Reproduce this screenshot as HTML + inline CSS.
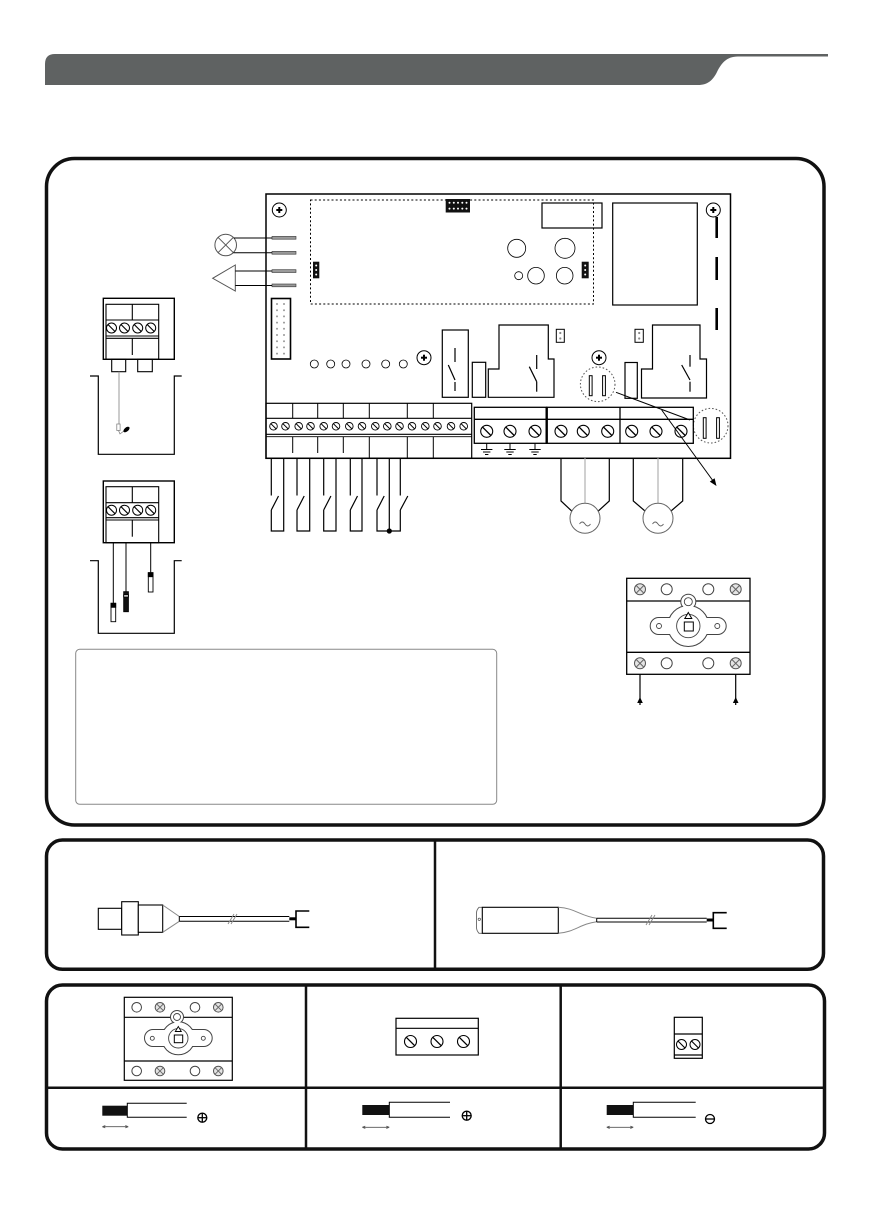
<!DOCTYPE html>
<html><head><meta charset="utf-8"><style>
html,body{margin:0;padding:0;background:#fff;}
svg{display:block;}
</style></head><body>
<svg width="874" height="1226" viewBox="0 0 874 1226" xmlns="http://www.w3.org/2000/svg">
<defs>
<g id="s4"><circle r="3.8" fill="#fff" stroke="#000" stroke-width="0.9"/><line x1="-2.6" y1="-2.6" x2="2.6" y2="2.6" stroke="#000" stroke-width="1"/></g>
<g id="s5"><circle r="5" fill="#fff" stroke="#000" stroke-width="1"/><line x1="-3.5" y1="-3.5" x2="3.5" y2="3.5" stroke="#000" stroke-width="1.1"/></g>
<g id="s6"><circle r="6" fill="#fff" stroke="#000" stroke-width="1.1"/><line x1="-4.2" y1="-4.2" x2="4.2" y2="4.2" stroke="#000" stroke-width="1.3"/></g>
<g id="plus"><circle r="7" fill="#fff" stroke="#000" stroke-width="1"/><line x1="-3" y1="0" x2="3" y2="0" stroke="#000" stroke-width="2"/><line x1="0" y1="-3" x2="0" y2="3" stroke="#000" stroke-width="2"/></g>
<g id="xs"><circle r="5.5" fill="#e4e4e4" stroke="#555" stroke-width="1"/><line x1="-3.8" y1="-3.8" x2="3.8" y2="3.8" stroke="#666" stroke-width="1"/><line x1="-3.8" y1="3.8" x2="3.8" y2="-3.8" stroke="#666" stroke-width="1"/></g>
<g id="os"><circle r="5.5" fill="#fff" stroke="#444" stroke-width="1"/></g>
<g id="xs2"><circle r="4.8" fill="#e4e4e4" stroke="#555" stroke-width="1"/><line x1="-3.3" y1="-3.3" x2="3.3" y2="3.3" stroke="#666" stroke-width="0.9"/><line x1="-3.3" y1="3.3" x2="3.3" y2="-3.3" stroke="#666" stroke-width="0.9"/></g>
<g id="os2"><circle r="4.8" fill="#fff" stroke="#444" stroke-width="1"/></g>
</defs>

<!-- Header bar -->
<path d="M45,85 V64 Q45,54 55,54 H828 V56.5 H738 C726,56.5 721,64 717,72 C713,80 708,85 698,85 Z" fill="#5f6262"/>

<!-- Main frame -->
<rect x="46.5" y="158.5" width="777.5" height="666.5" rx="28" fill="none" stroke="#111" stroke-width="3.5"/>

<!-- PCB -->
<g fill="none" stroke="#000">
<rect x="266" y="194" width="464.5" height="264.3" stroke-width="1.5"/>
<rect x="310.5" y="200" width="283" height="104" stroke-width="1" stroke-dasharray="2,2.2"/>
<rect x="542" y="203" width="60" height="25" stroke-width="1.2"/>
<rect x="612.7" y="203" width="84.6" height="102" stroke-width="1.2"/>
<circle cx="516.7" cy="248.3" r="9" stroke-width="0.8"/>
<circle cx="565" cy="248.3" r="10" stroke-width="0.8"/>
<circle cx="518.7" cy="275.7" r="4" stroke-width="0.8"/>
<circle cx="536" cy="275.7" r="8.3" stroke-width="0.8"/>
<circle cx="564.7" cy="275.7" r="8.3" stroke-width="0.8"/>
<g stroke-width="0.8">
<circle cx="314.3" cy="364" r="4"/><circle cx="330.7" cy="364" r="4"/><circle cx="346" cy="364" r="4"/>
<circle cx="366" cy="364" r="4"/><circle cx="385.7" cy="364" r="4"/><circle cx="403.3" cy="364" r="4"/>
</g>
<!-- right dashes -->
<line x1="716.7" y1="217" x2="716.7" y2="238" stroke-width="2.6"/>
<line x1="716.7" y1="257" x2="716.7" y2="280" stroke-width="2.6"/>
<line x1="716.7" y1="308" x2="716.7" y2="330" stroke-width="2.6"/>
<!-- relays -->
<rect x="442.3" y="330" width="26" height="67.3" stroke-width="1.2"/>
<rect x="472.3" y="362.3" width="13.4" height="35" stroke-width="1.2"/>
<path d="M499,325 H548.3 V359 H554 V397.3 H488.3 V369 H499 Z" stroke-width="1.2"/>
<rect x="625" y="362.5" width="12.3" height="35.8" stroke-width="1.2"/>
<path d="M652.5,325 H700 V359 H706.5 V398 H641.5 V369 H652.5 Z" stroke-width="1.2"/>
<g stroke-width="1.2">
<line x1="455" y1="348" x2="455" y2="362"/><line x1="448.3" y1="365" x2="455" y2="380"/><line x1="455" y1="382" x2="455" y2="391"/>
<line x1="536.7" y1="355" x2="536.7" y2="369"/><line x1="529.3" y1="366.7" x2="536.7" y2="381.7"/><line x1="536.7" y1="381.7" x2="536.7" y2="391.7"/>
<line x1="690" y1="355" x2="690" y2="366.7"/><line x1="681.7" y1="365" x2="690" y2="380"/><line x1="690" y1="381.7" x2="690" y2="391.7"/>
</g>
<!-- 2-dot jumpers -->
<rect x="556.3" y="329.3" width="8" height="13" stroke-width="1"/>
<rect x="635" y="329.3" width="8.3" height="13" stroke-width="1"/>
</g>
<g fill="#888">
<circle cx="560.3" cy="333" r="1.1"/><circle cx="560.3" cy="338.5" r="1.1"/>
<circle cx="639.2" cy="333" r="1.1"/><circle cx="639.2" cy="338.5" r="1.1"/>
</g>
<!-- plus screws -->
<use href="#plus" x="279.3" y="210"/>
<use href="#plus" x="713.3" y="210"/>
<use href="#plus" x="424" y="357.7"/>
<use href="#plus" x="599" y="357.7"/>
<!-- top header connector -->
<rect x="445.7" y="199" width="24.3" height="13.5" fill="#111"/>
<g fill="#fff">
<circle cx="449.5" cy="202.8" r="1"/><circle cx="453.8" cy="202.8" r="1"/><circle cx="458" cy="202.8" r="1"/><circle cx="462.3" cy="202.8" r="1"/><circle cx="466.5" cy="202.8" r="1"/>
<circle cx="449.5" cy="208.6" r="1"/><circle cx="453.8" cy="208.6" r="1"/><circle cx="458" cy="208.6" r="1"/><circle cx="462.3" cy="208.6" r="1"/><circle cx="466.5" cy="208.6" r="1"/>
</g>
<!-- 3-dot jumpers -->
<rect x="313" y="261.7" width="6.3" height="16.6" fill="#111"/>
<rect x="581.7" y="261.7" width="7" height="16.6" fill="#111"/>
<g fill="#fff">
<circle cx="316.2" cy="265.5" r="1"/><circle cx="316.2" cy="270" r="1"/><circle cx="316.2" cy="274.5" r="1"/>
<circle cx="585.2" cy="265.5" r="1"/><circle cx="585.2" cy="270" r="1"/><circle cx="585.2" cy="274.5" r="1"/>
</g>
<!-- ribbon connector -->
<rect x="271.5" y="298.5" width="19" height="60.5" fill="#fff" stroke="#000" stroke-width="1.6"/>
<g fill="#999">
<circle cx="277" cy="304" r="1"/><circle cx="284" cy="304" r="1"/>
<circle cx="277" cy="310.2" r="1"/><circle cx="284" cy="310.2" r="1"/>
<circle cx="277" cy="316.4" r="1"/><circle cx="284" cy="316.4" r="1"/>
<circle cx="277" cy="322.6" r="1"/><circle cx="284" cy="322.6" r="1"/>
<circle cx="277" cy="328.8" r="1"/><circle cx="284" cy="328.8" r="1"/>
<circle cx="277" cy="335" r="1"/><circle cx="284" cy="335" r="1"/>
<circle cx="277" cy="341.2" r="1"/><circle cx="284" cy="341.2" r="1"/>
<circle cx="277" cy="347.4" r="1"/><circle cx="284" cy="347.4" r="1"/>
<circle cx="277" cy="353.6" r="1"/><circle cx="284" cy="353.6" r="1"/>
</g>
<!-- pins -->
<g fill="#9a9a9a" stroke="#333" stroke-width="0.6">
<rect x="272" y="236.4" width="24" height="2.8"/>
<rect x="272" y="251.4" width="24" height="2.8"/>
<rect x="272" y="269.7" width="24" height="2.8"/>
<rect x="272" y="284" width="24" height="2.8"/>
</g>
<!-- lamp & speaker -->
<g fill="none" stroke="#000" stroke-width="1">
<circle cx="225.7" cy="245" r="10.8" stroke="#555"/>
<line x1="218" y1="237.3" x2="233.4" y2="252.7" stroke="#555"/>
<line x1="218" y1="252.7" x2="233.4" y2="237.3" stroke="#555"/>
<line x1="234" y1="238" x2="272" y2="238"/>
<line x1="233.5" y1="252.8" x2="272" y2="252.8"/>
<path d="M235.3,265 L212.7,278.3 L235.3,291 Z" stroke="#555"/>
<line x1="235.3" y1="271" x2="272" y2="271"/>
<line x1="235.3" y1="285.5" x2="272" y2="285.5"/>
</g>

<!-- fuses -->
<g fill="none" stroke="#555" stroke-width="1" stroke-dasharray="1.6,2">
<circle cx="597.7" cy="384.3" r="17.3"/>
<circle cx="710.7" cy="425.7" r="17.3"/>
</g>
<g fill="#fff" stroke="#000" stroke-width="1">
<rect x="589.3" y="375.7" width="2.8" height="20"/>
<rect x="602.6" y="375.7" width="2.8" height="20"/>
<rect x="703.3" y="417.7" width="2.8" height="20.6"/>
<rect x="716.6" y="417.7" width="2.8" height="20.6"/>
</g>

<!-- left terminal block on PCB -->
<g fill="none" stroke="#000" stroke-width="1.2">
<rect x="266" y="403.3" width="205.7" height="55"/>
<line x1="266" y1="418.3" x2="471.7" y2="418.3"/>
<line x1="266" y1="434.3" x2="471.7" y2="434.3"/>
<line x1="266" y1="436.7" x2="471.7" y2="436.7" stroke-width="0.9"/>
<g stroke-width="1">
<line x1="292.7" y1="403.3" x2="292.7" y2="418.3"/><line x1="317.7" y1="403.3" x2="317.7" y2="418.3"/>
<line x1="343.3" y1="403.3" x2="343.3" y2="418.3"/><line x1="369.3" y1="403.3" x2="369.3" y2="418.3"/>
<line x1="407.3" y1="403.3" x2="407.3" y2="418.3"/><line x1="433.3" y1="403.3" x2="433.3" y2="418.3"/>
<line x1="292.7" y1="436.7" x2="292.7" y2="453"/><line x1="317.7" y1="436.7" x2="317.7" y2="453"/>
<line x1="343.3" y1="436.7" x2="343.3" y2="453"/><line x1="369.3" y1="436.7" x2="369.3" y2="458.3"/>
<line x1="407.3" y1="436.7" x2="407.3" y2="458.3"/><line x1="433.3" y1="436.7" x2="433.3" y2="458.3"/>
</g>
</g>
<use href="#s4" x="273.5" y="426.3"/><use href="#s4" x="285.5" y="426.3"/>
<use href="#s4" x="298.7" y="426.3"/><use href="#s4" x="310.5" y="426.3"/>
<use href="#s4" x="323.7" y="426.3"/><use href="#s4" x="336" y="426.3"/>
<use href="#s4" x="349.3" y="426.3"/><use href="#s4" x="362" y="426.3"/>
<use href="#s4" x="375.3" y="426.3"/><use href="#s4" x="387.3" y="426.3"/><use href="#s4" x="399.5" y="426.3"/>
<use href="#s4" x="412" y="426.3"/><use href="#s4" x="425.3" y="426.3"/>
<use href="#s4" x="437.5" y="426.3"/><use href="#s4" x="451" y="426.3"/><use href="#s4" x="463.7" y="426.3"/>

<!-- right terminal blocks -->
<g fill="none" stroke="#000" stroke-width="1.3">
<rect x="474.3" y="407.3" width="72.4" height="36"/>
<line x1="474.3" y1="419.3" x2="546.7" y2="419.3"/>
<rect x="546.7" y="407.3" width="146.6" height="36"/>
<line x1="546.7" y1="419.3" x2="693.3" y2="419.3"/>
<line x1="620" y1="407.3" x2="620" y2="443.3"/>
<line x1="546.7" y1="407.3" x2="546.7" y2="443.3" stroke-width="2.4"/>
</g>
<use href="#s6" x="486.7" y="431.3"/><use href="#s6" x="510" y="431.3"/><use href="#s6" x="535" y="431.3"/>
<use href="#s6" x="561" y="431.3"/><use href="#s6" x="583.3" y="431.3"/><use href="#s6" x="607.7" y="431.3"/>
<use href="#s6" x="631.7" y="431.3"/><use href="#s6" x="656" y="431.3"/><use href="#s6" x="681" y="431.3"/>
<!-- grounds -->
<g stroke="#000" stroke-width="1">
<line x1="486.7" y1="443.3" x2="486.7" y2="449.5"/><line x1="481" y1="449.5" x2="492.4" y2="449.5"/><line x1="483" y1="452" x2="490.4" y2="452"/><line x1="485" y1="454.5" x2="488.4" y2="454.5"/>
<line x1="510" y1="443.3" x2="510" y2="449.5"/><line x1="504.3" y1="449.5" x2="515.7" y2="449.5"/><line x1="506.3" y1="452" x2="513.7" y2="452"/><line x1="508.3" y1="454.5" x2="511.7" y2="454.5"/>
<line x1="535" y1="443.3" x2="535" y2="449.5"/><line x1="529.3" y1="449.5" x2="540.7" y2="449.5"/><line x1="531.3" y1="452" x2="538.7" y2="452"/><line x1="533.3" y1="454.5" x2="536.7" y2="454.5"/>
</g>
<!-- fuse leader lines -->
<g stroke="#000" stroke-width="1" fill="none">
<line x1="616" y1="392.3" x2="690" y2="420"/>
<line x1="661.7" y1="410" x2="713.5" y2="481.5"/>
</g>
<path d="M716.5,486 L709.8,481.6 L714.6,478.2 Z" fill="#000"/>

<!-- switch wires -->
<g fill="none" stroke="#000" stroke-width="1.2">
<path d="M271.3,458.3 V495.5 M271.3,510 L278.5,496 M271.3,510 V531 H283.7 V458.3"/>
<path d="M297,458.3 V495.5 M297,510 L304.2,496 M297,510 V531 H309.7 V458.3"/>
<path d="M323.7,458.3 V495.5 M323.7,510 L330.9,496 M323.7,510 V531 H336 V458.3"/>
<path d="M350.3,458.3 V495.5 M350.3,510 L357.5,496 M350.3,510 V531 H362 V458.3"/>
<path d="M377,458.3 V495.5 M377,510 L384.2,496 M377,510 V531 H400.3 V510 M400.3,510 L407.8,496 M400.3,495.5 V458.3"/>
<line x1="389.3" y1="458.3" x2="389.3" y2="531"/>
</g>
<circle cx="389.3" cy="531" r="2.6" fill="#000"/>

<!-- motors -->
<g fill="none" stroke="#000" stroke-width="1.2">
<path d="M561,458.3 V501 L571.7,511 M609.3,458.3 V501 L598.3,511"/>
<path d="M633.3,458.3 V501 L645,511 M682.7,458.3 V501 L671,511"/>
</g>
<g stroke="#bbb" stroke-width="1.4">
<line x1="585" y1="458.3" x2="585" y2="503.3"/>
<line x1="658" y1="458.3" x2="658" y2="503.3"/>
</g>
<g fill="#fff" stroke="#666" stroke-width="1">
<circle cx="585" cy="518.3" r="15"/>
<circle cx="658" cy="518.3" r="15"/>
</g>
<g fill="none" stroke="#666" stroke-width="0.9">
<path d="M579.5,524 q2.8,-4 5.5,0 t5.5,0"/>
<path d="M652.5,524 q2.8,-4 5.5,0 t5.5,0"/>
</g>

<!-- upper left terminal block 1 + tank -->
<g fill="none" stroke="#000" stroke-width="1.4">
<rect x="103.3" y="298.3" width="71" height="61"/>
<g stroke-width="1.1">
<rect x="106" y="304.3" width="52.7" height="55"/>
<line x1="106" y1="320" x2="158.7" y2="320"/>
<line x1="106" y1="336" x2="158.7" y2="336"/>
<line x1="106" y1="338.3" x2="158.7" y2="338.3"/>
<line x1="132.3" y1="304.3" x2="132.3" y2="320"/>
<line x1="132.3" y1="338.3" x2="132.3" y2="355"/>
<rect x="111.7" y="359.3" width="14" height="12.4"/>
<rect x="137.7" y="359.3" width="14.6" height="12.4"/>
</g>
<path d="M90,376 H98.3 V454.3 H174.3 V376 H181.7" stroke-width="1.2"/>
</g>
<use href="#s5" x="111.5" y="328"/><use href="#s5" x="124.5" y="328"/><use href="#s5" x="137.7" y="328"/><use href="#s5" x="150.7" y="328"/>
<line x1="119" y1="371.7" x2="119" y2="424" stroke="#999" stroke-width="1"/>
<rect x="116.8" y="424" width="3.3" height="6.5" fill="#fff" stroke="#777" stroke-width="0.7"/>
<path d="M118.5,430.5 L120,434 L124.5,430.5" fill="none" stroke="#777" stroke-width="0.7"/>
<ellipse cx="126.5" cy="429.5" rx="3.6" ry="2" transform="rotate(-40 126.5 429.5)" fill="#000"/>

<!-- block 2 + tank -->
<g fill="none" stroke="#000" stroke-width="1.4">
<rect x="103.3" y="481" width="71" height="61.7"/>
<g stroke-width="1.1">
<rect x="106" y="486.7" width="52.7" height="56"/>
<line x1="106" y1="502.7" x2="158.7" y2="502.7"/>
<line x1="106" y1="517.7" x2="158.7" y2="517.7"/>
<line x1="106" y1="520" x2="158.7" y2="520"/>
<line x1="132.3" y1="486.7" x2="132.3" y2="502.7"/>
<line x1="132.3" y1="520" x2="132.3" y2="536.7"/>
</g>
<path d="M90,560.7 H98.3 V633.3 H174.3 V560.7 H181.7" stroke-width="1.2"/>
</g>
<use href="#s5" x="111.5" y="510.2"/><use href="#s5" x="124.5" y="510.2"/><use href="#s5" x="137.7" y="510.2"/><use href="#s5" x="150.7" y="510.2"/>
<g stroke="#000" stroke-width="1">
<line x1="113.3" y1="542.7" x2="113.3" y2="603.3"/>
<line x1="126" y1="542.7" x2="126" y2="591.7"/>
<line x1="150.7" y1="542.7" x2="150.7" y2="572.7"/>
</g>
<g stroke="#000" stroke-width="0.9">
<rect x="111" y="603.3" width="4.7" height="18.4" fill="#fff"/>
<rect x="111" y="603.3" width="4.7" height="4" fill="#000"/>
<rect x="123.7" y="591.7" width="4.7" height="20" fill="#111"/>
<rect x="123.7" y="594.8" width="4.7" height="2.2" fill="#fff"/>
<rect x="148.3" y="572.7" width="4.7" height="19.3" fill="#fff"/>
<rect x="148.3" y="572.7" width="4.7" height="4" fill="#000"/>
</g>

<!-- note box -->
<rect x="75.7" y="649.3" width="421" height="155" rx="4" fill="none" stroke="#888" stroke-width="1"/>

<!-- disconnector (main) -->
<g fill="none" stroke="#000" stroke-width="1.3">
<rect x="626.7" y="578.3" width="123.3" height="96"/>
<line x1="626.7" y1="601" x2="750" y2="601"/>
<line x1="626.7" y1="652.3" x2="750" y2="652.3"/>
</g>
<use href="#xs" x="640" y="589.3"/><use href="#os" x="666.7" y="589.3"/><use href="#os" x="708.3" y="589.3"/><use href="#xs" x="735.7" y="589.3"/>
<use href="#xs" x="640" y="663.3"/><use href="#os" x="666.7" y="663.3"/><use href="#os" x="708.3" y="663.3"/><use href="#xs" x="735.7" y="663.3"/>
<g stroke="#444" stroke-width="2" fill="#fff">
<rect x="650.7" y="618" width="75" height="16" rx="8"/>
<circle cx="688.3" cy="626" r="20"/>
<circle cx="688.3" cy="601.7" r="7"/>
</g>
<g fill="#fff">
<rect x="650.7" y="618" width="75" height="16" rx="8"/>
<circle cx="688.3" cy="626" r="20"/>
<circle cx="688.3" cy="601.7" r="7"/>
</g>
<g fill="none" stroke="#444" stroke-width="0.9">
<circle cx="688.3" cy="626" r="11.7"/>
<circle cx="688.3" cy="601.7" r="4"/>
<circle cx="659" cy="626" r="2.5"/>
<circle cx="717.3" cy="626" r="2.5"/>
</g>
<path d="M684.8,618.5 H691.8 L688.3,612.5 Z" fill="#fff" stroke="#000" stroke-width="1"/>
<rect x="684.3" y="622" width="9" height="9" fill="none" stroke="#000" stroke-width="1"/>
<g stroke="#000" stroke-width="1.2">
<line x1="640" y1="674.3" x2="640" y2="705"/>
<line x1="735.7" y1="674.3" x2="735.7" y2="705"/>
</g>
<path d="M640,697 L637.2,703 L642.8,703 Z M735.7,697 L732.9,703 L738.5,703 Z" fill="#000"/>

<!-- bottom panel 1 -->
<rect x="46.5" y="840" width="777" height="129.3" rx="16" fill="none" stroke="#111" stroke-width="3.5"/>
<line x1="435" y1="840" x2="435" y2="969.3" stroke="#111" stroke-width="2.5"/>
<g fill="#fff" stroke="#000" stroke-width="1.1">
<rect x="98.3" y="908.3" width="23.4" height="21"/>
<rect x="121.7" y="901.7" width="16.6" height="33.3"/>
<rect x="138.3" y="905" width="24.4" height="27.3"/>
</g>
<path d="M162.7,905 L179.3,916.5 M162.7,932.3 L179.3,921.3" stroke="#888" stroke-width="1" fill="none"/>
<g stroke="#000" stroke-width="1">
<line x1="179.3" y1="916.5" x2="289.3" y2="916.5"/>
<line x1="179.3" y1="921.3" x2="289.3" y2="921.3"/>
<line x1="179.3" y1="916.5" x2="179.3" y2="921.3"/>
</g>
<path d="M228,924 L234,914 M231,924 L237,914" stroke="#888" stroke-width="0.9"/>
<rect x="289.3" y="917.3" width="6.7" height="3" fill="#000"/>
<path d="M309.3,911 H296 V927.3 H309.3" fill="none" stroke="#000" stroke-width="1.6"/>

<path d="M482.3,907.3 H479 Q476.5,910 476.5,913 V927.5 Q476.5,930.5 479,933.3 H482.3" fill="none" stroke="#666" stroke-width="0.9"/>
<rect x="482.3" y="907.3" width="76" height="26" fill="#fff" stroke="#000" stroke-width="1.1"/>
<circle cx="479.3" cy="919.3" r="1.2" fill="none" stroke="#555" stroke-width="0.7"/>
<path d="M558.3,907.3 C575,908 580,916 596.7,918.3 M558.3,933.3 C575,932 580,924 596.7,921.7" fill="none" stroke="#888" stroke-width="1"/>
<g stroke="#000" stroke-width="1">
<line x1="596.7" y1="918.3" x2="706.7" y2="918.3"/>
<line x1="596.7" y1="922" x2="706.7" y2="922"/>
<line x1="596.7" y1="918.3" x2="596.7" y2="922"/>
</g>
<path d="M646,925 L652,915 M649,925 L655,915" stroke="#888" stroke-width="0.9"/>
<rect x="706.7" y="918.5" width="6.7" height="3" fill="#000"/>
<path d="M726.7,912.7 H713.3 V928.3 H726.7" fill="none" stroke="#000" stroke-width="1.6"/>

<!-- bottom panel 2 -->
<rect x="46.5" y="985" width="778" height="164" rx="16" fill="none" stroke="#111" stroke-width="3.5"/>
<g stroke="#111" stroke-width="2.5">
<line x1="46.5" y1="1087.7" x2="824.5" y2="1087.7"/>
<line x1="306" y1="985" x2="306" y2="1149"/>
<line x1="560.7" y1="985" x2="560.7" y2="1149"/>
</g>
<!-- small disconnector -->
<g fill="none" stroke="#000" stroke-width="1.2">
<rect x="124.3" y="997.3" width="108" height="83"/>
<line x1="124.3" y1="1017.3" x2="232.3" y2="1017.3"/>
<line x1="124.3" y1="1061" x2="232.3" y2="1061"/>
</g>
<use href="#os2" x="136.7" y="1007.3"/><use href="#xs2" x="160" y="1007.3"/><use href="#os2" x="195" y="1007.3"/><use href="#xs2" x="218.3" y="1007.3"/>
<use href="#os2" x="136.7" y="1071"/><use href="#xs2" x="160" y="1071"/><use href="#os2" x="195" y="1071"/><use href="#xs2" x="218.3" y="1071"/>
<g stroke="#444" stroke-width="2" fill="#fff">
<rect x="145" y="1030" width="66.7" height="16" rx="8"/>
<circle cx="178.3" cy="1038.3" r="16"/>
<circle cx="177" cy="1017" r="6"/>
</g>
<g fill="#fff">
<rect x="145" y="1030" width="66.7" height="16" rx="8"/>
<circle cx="178.3" cy="1038.3" r="16"/>
<circle cx="177" cy="1017" r="6"/>
</g>
<g fill="none" stroke="#444" stroke-width="0.9">
<circle cx="178.3" cy="1038.3" r="9.7"/>
<circle cx="177" cy="1017" r="3.5"/>
<circle cx="152.3" cy="1038.3" r="2"/>
<circle cx="203.3" cy="1038.3" r="2"/>
</g>
<path d="M175.3,1031.5 H181.3 L178.3,1026.5 Z" fill="#fff" stroke="#000" stroke-width="0.9"/>
<rect x="174.3" y="1035" width="8.4" height="7.7" fill="none" stroke="#000" stroke-width="1"/>

<!-- 3-screw block -->
<g fill="none" stroke="#000" stroke-width="1.2">
<rect x="396" y="1018.3" width="82.3" height="36.7"/>
<line x1="396" y1="1028.3" x2="478.3" y2="1028.3"/>
</g>
<use href="#s6" x="410.5" y="1041.5"/><use href="#s6" x="437" y="1041.5"/><use href="#s6" x="463.5" y="1041.5"/>

<!-- 2-screw block -->
<g fill="none" stroke="#000" stroke-width="1.2">
<rect x="674.3" y="1017.3" width="28" height="41"/>
<line x1="674.3" y1="1034" x2="702.3" y2="1034"/>
<line x1="674.3" y1="1055" x2="702.3" y2="1055"/>
</g>
<use href="#s5" x="681.5" y="1044.5"/><use href="#s5" x="695" y="1044.5"/>

<!-- wire strips -->
<rect x="102.3" y="1105.7" width="25" height="10" fill="#111"/>
<path d="M186.7,1103.3 H127.3 V1117.3 H186.7" fill="none" stroke="#000" stroke-width="1"/>
<rect x="362.3" y="1105" width="27" height="10" fill="#111"/>
<path d="M450,1102.3 H389.3 V1117.3 H450" fill="none" stroke="#000" stroke-width="1"/>
<rect x="606.7" y="1105" width="26.6" height="10" fill="#111"/>
<path d="M695.7,1102.3 H633.3 V1117.3 H695.7" fill="none" stroke="#000" stroke-width="1"/>
<g stroke="#555" stroke-width="0.8" fill="none">
<path d="M102.3,1126.7 H128.3 M102.3,1126.7 l3,-1.2 M102.3,1126.7 l3,1.2 M128.3,1126.7 l-3,-1.2 M128.3,1126.7 l-3,1.2"/>
<path d="M362.3,1127.3 H389.3 M362.3,1127.3 l3,-1.2 M362.3,1127.3 l3,1.2 M389.3,1127.3 l-3,-1.2 M389.3,1127.3 l-3,1.2"/>
<path d="M606.7,1127.3 H633.3 M606.7,1127.3 l3,-1.2 M606.7,1127.3 l3,1.2 M633.3,1127.3 l-3,-1.2 M633.3,1127.3 l-3,1.2"/>
</g>
<g fill="none" stroke="#000" stroke-width="1.3">
<circle cx="202.3" cy="1117.7" r="4.5"/><line x1="197.8" y1="1117.7" x2="206.8" y2="1117.7"/><line x1="202.3" y1="1113.2" x2="202.3" y2="1122.2"/>
<circle cx="466.7" cy="1115.7" r="4.5"/><line x1="462.2" y1="1115.7" x2="471.2" y2="1115.7"/><line x1="466.7" y1="1111.2" x2="466.7" y2="1120.2"/>
<circle cx="710" cy="1119" r="4.5"/><line x1="705.5" y1="1119" x2="714.5" y2="1119"/>
</g>
</svg>
</body></html>
